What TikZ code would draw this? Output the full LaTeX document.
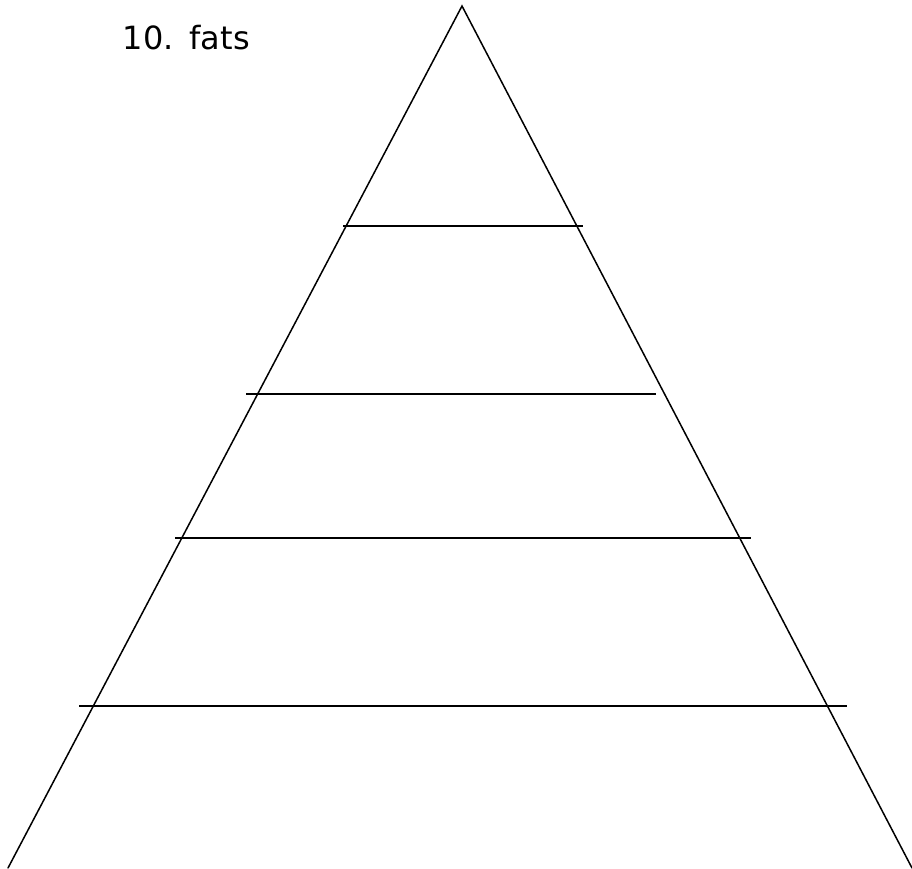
\documentclass[tikz,border=0pt]{standalone}
\usepackage{fontspec}
\setmainfont{DejaVu Sans}
\usetikzlibrary{positioning}

\begin{document}
\begin{tikzpicture}[x=1pt, y=-1pt, line width=1.5pt,
    side/.style={draw=black, line cap=round},
    rung/.style={draw=black, line width=1.6pt}]
    \useasboundingbox (0,0) rectangle (912,868);
    % Ecken der Pyramide
    \coordinate (top) at (462,6);
    \coordinate (botL) at (8,868);
    \coordinate (botR) at (912,868);
    \draw[side] (botL) -- (top) -- (botR);
    % Querlinien (Stufen)
    \coordinate (s1L) at (343,226);
    \coordinate (s1R) at (583,226);
    \coordinate (s2L) at (246,394);
    \coordinate (s2R) at (656,394);
    \coordinate (s3L) at (175,538);
    \coordinate (s3R) at (751,538);
    \coordinate (s4L) at (79,706);
    \coordinate (s4R) at (847,706);
    \draw[rung] (s1L) -- (s1R);
    \draw[rung] (s2L) -- (s2R);
    \draw[rung] (s3L) -- (s3R);
    \draw[rung] (s4L) -- (s4R);
    % Beschriftung
    \node[anchor=base west, inner sep=0pt, font=\fontsize{32}{36}\selectfont] (fats) at (122,49) {10.\hspace{0.5em}fats};
\end{tikzpicture}
\end{document}
